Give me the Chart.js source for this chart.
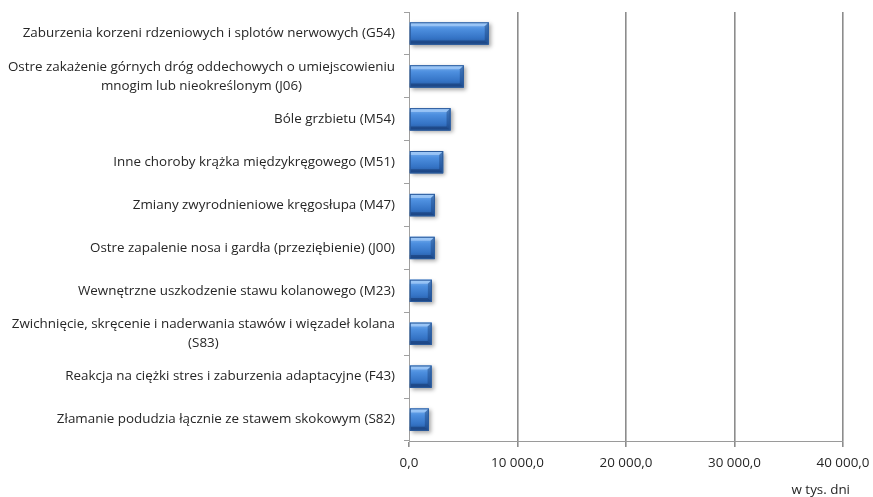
<!DOCTYPE html>
<html>
<head>
<meta charset="utf-8">
<script src="https://cdn.jsdelivr.net/npm/chart.js@4/dist/chart.umd.min.js"></script>
<style>
  html, body { margin: 0; padding: 0; background: #fff; }
  #wrap { width: 873px; height: 497px; }
</style>
</head>
<body>
<div id="wrap"><canvas id="chart"></canvas></div>
<script>
const categories = [
  'Zaburzenia korzeni rdzeniowych i splotów nerwowych (G54)',
  ['Ostre zakażenie górnych dróg oddechowych o umiejscowieniu', 'mnogim lub nieokreślonym (J06)'],
  'Bóle grzbietu (M54)',
  'Inne choroby krążka międzykręgowego (M51)',
  'Zmiany zwyrodnieniowe kręgosłupa (M47)',
  'Ostre zapalenie nosa i gardła (przeziębienie) (J00)',
  'Wewnętrzne uszkodzenie stawu kolanowego (M23)',
  ['Zwichnięcie, skręcenie i naderwania stawów i więzadeł kolana', '(S83)'],
  'Reakcja na ciężki stres i zaburzenia adaptacyjne (F43)',
  'Złamanie podudzia łącznie ze stawem skokowym (S82)'
];
const days = [7350, 5050, 3830, 3150, 2390, 2370, 2110, 2090, 2080, 1830];
const xTicks = [0, 10000, 20000, 30000, 40000];
const unitLabel = 'w tys. dni';

const FONT = '"Open Sans", sans-serif';
const FONT_SIZE = 13.4;
const TEXT = '#262626';

function fmt(v) {
  return String(Math.round(v)).replace(/\B(?=(\d{3})+(?!\d))/g, ' ') + ',0';
}

// shadow under bars + glossy bevel over them, category labels, unit label
const bevelBars = {
  id: 'bevelBars',
  beforeDatasetsDraw(chart) {
    const ctx = chart.ctx;
    ctx.save();
    ctx.shadowColor = 'rgba(0,0,0,0.35)';
    ctx.shadowBlur = 4;
    ctx.shadowOffsetX = 2;
    ctx.shadowOffsetY = 2;
  },
  afterDatasetsDraw(chart) {
    const ctx = chart.ctx;
    ctx.restore();
    ctx.save();
    chart.getDatasetMeta(0).data.forEach(bar => {
      const p = bar.getProps(['x', 'y', 'base', 'height'], true);
      const l = p.base, r = p.x, t = p.y - p.height / 2, b = p.y + p.height / 2;
      const h = b - t, w = r - l;
      const g = ctx.createLinearGradient(0, t, 0, b);
      g.addColorStop(0, '#7db4f0');
      g.addColorStop(0.3, '#4d8fdf');
      g.addColorStop(0.7, '#3574c6');
      g.addColorStop(1, '#25569c');
      ctx.fillStyle = g;
      ctx.fillRect(l, t, w, h);
      const bv = Math.min(4, h * 0.2);
      ctx.fillStyle = 'rgba(190,220,255,0.55)';
      ctx.beginPath();
      ctx.moveTo(l, t); ctx.lineTo(r, t); ctx.lineTo(r - bv, t + bv); ctx.lineTo(l, t + bv);
      ctx.closePath(); ctx.fill();
      ctx.fillStyle = 'rgba(15,45,95,0.45)';
      ctx.beginPath();
      ctx.moveTo(l, b); ctx.lineTo(r, b); ctx.lineTo(r - bv, b - bv); ctx.lineTo(l, b - bv);
      ctx.closePath(); ctx.fill();
      ctx.fillStyle = 'rgba(20,55,110,0.4)';
      ctx.beginPath();
      ctx.moveTo(r, t); ctx.lineTo(r, b); ctx.lineTo(r - bv, b - bv); ctx.lineTo(r - bv, t + bv);
      ctx.closePath(); ctx.fill();
      ctx.strokeStyle = '#2b5b9c';
      ctx.lineWidth = 1;
      ctx.strokeRect(l + 0.5, t + 0.5, w - 1, h - 1);
    });
    ctx.restore();
  },
  afterDraw(chart) {
    const ctx = chart.ctx;
    const yScale = chart.scales.y;
    const right = chart.chartArea.left - 14;
    const lineH = 19;
    ctx.save();
    ctx.font = FONT_SIZE + 'px ' + FONT;
    ctx.fillStyle = TEXT;
    ctx.textBaseline = 'middle';
    // category labels: single lines right-aligned, wrapped ones centred under their widest line
    categories.forEach((lab, i) => {
      const y = yScale.getPixelForTick(i);
      const lines = Array.isArray(lab) ? lab : [lab];
      if (lines.length === 1) {
        ctx.textAlign = 'right';
        ctx.fillText(lines[0], right, y);
        return;
      }
      const widest = Math.max(...lines.map(s => ctx.measureText(s).width));
      const cx = right - widest / 2;
      const y0 = y - (lines.length - 1) * lineH / 2;
      ctx.textAlign = 'center';
      lines.forEach((s, k) => ctx.fillText(s, cx, y0 + k * lineH));
    });
    ctx.textAlign = 'right';
    ctx.fillText(unitLabel, chart.chartArea.right + 7, 490);
    ctx.restore();
  }
};

new Chart(document.getElementById('chart'), {
  type: 'bar',
  data: {
    labels: categories,
    datasets: [{
      data: days,
      backgroundColor: '#3f80d2',
      categoryPercentage: 1,
      barPercentage: 0.52
    }]
  },
  options: {
    indexAxis: 'y',
    responsive: true,
    maintainAspectRatio: false,
    animation: false,
    layout: { padding: { top: 12, right: 30, left: 0, bottom: 0 } },
    plugins: {
      legend: { display: false },
      tooltip: { enabled: false }
    },
    scales: {
      x: {
        min: 0,
        max: 40000,
        afterBuildTicks(scale) { scale.ticks = xTicks.map(v => ({ value: v })); },
        afterFit(scale) {
          scale.height = 56;
          scale.paddingLeft = 0;
          scale.paddingRight = 0;
        },
        border: { display: true, color: '#9a9a9a', width: 1 },
        grid: {
          color: ctx => ctx.index === 0 ? 'rgba(0,0,0,0)' : '#8c8c8c',
          lineWidth: 1.6,
          tickColor: '#8c8c8c',
          tickLength: 6
        },
        ticks: {
          padding: 8,
          color: TEXT,
          font: { family: FONT, size: FONT_SIZE },
          maxRotation: 0,
          callback: v => fmt(v)
        }
      },
      y: {
        afterFit(scale) { scale.width = 409; },
        border: { display: true, color: '#a0a0a0', width: 1 },
        grid: {
          drawOnChartArea: false,
          tickColor: '#a0a0a0',
          tickLength: 5
        },
        ticks: { display: false, autoSkip: false }
      }
    }
  },
  plugins: [bevelBars]
});
</script>
</body>
</html>
